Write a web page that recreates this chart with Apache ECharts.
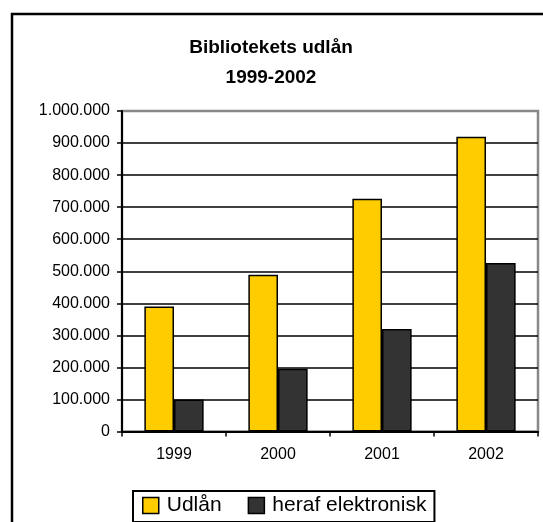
<!DOCTYPE html>
<html>
<head>
<meta charset="utf-8">
<script src="https://cdn.jsdelivr.net/npm/echarts@6/dist/echarts.min.js"></script>
<style>
  html, body { margin: 0; padding: 0; background: #fff; }
  #chart { width: 543px; height: 522px; }
</style>
</head>
<body>
<div id="chart"></div>
<script>
const years = ['1999', '2000', '2001', '2002'];
const udlaan = [390000, 489000, 726000, 920000];
const elektronisk = [100000, 196000, 320000, 526000];
const yMax = 1000000;
const yStep = 100000;

// tal med punktum som tusindtalsseparator
function fmt(v) {
    return String(v).replace(/\B(?=(\d{3})+(?!\d))/g, '.');
}

const chart = echarts.init(document.getElementById('chart'));
const option = {
    animation: false,
    backgroundColor: '#fff',
    textStyle: { fontFamily: 'Liberation Sans, Arial, sans-serif' },
    title: {
        text: 'Bibliotekets udlån\n1999-2002',
        left: 266,
        top: 28,
        textAlign: 'center',
        textStyle: {
            fontSize: 19,
            fontWeight: 'bold',
            color: '#000',
            lineHeight: 30,
            fontFamily: 'Liberation Sans, Arial, sans-serif'
        }
    },
    graphic: [
        {
            type: 'rect',
            shape: { x: 12, y: 14, width: 560, height: 540 },
            style: { fill: 'none', stroke: '#000', lineWidth: 2.5 },
            silent: true
        }
    ],
    legend: {
        data: ['Udlån', 'heraf elektronisk'],
        left: 133,
        top: 491,
        padding: [4, 8, 6, 9],
        itemWidth: 16,
        itemHeight: 16,
        itemGap: 26,
        icon: 'rect',
        borderColor: '#000',
        borderWidth: 2,
        textStyle: { fontSize: 21, color: '#000', padding: [0, 0, 0, 3] },
        itemStyle: { borderColor: '#000', borderWidth: 1.5 }
    },
    grid: {
        left: 122,
        right: 5,
        top: 111,
        bottom: 90.5,
        show: true,
        borderColor: '#888',
        borderWidth: 2.5,
        backgroundColor: '#fff'
    },
    xAxis: {
        type: 'category',
        data: years,
        axisLine: { lineStyle: { color: '#000', width: 2 } },
        axisTick: { show: true, length: 5, lineStyle: { color: '#000', width: 1.5 } },
        axisLabel: { fontSize: 16, color: '#000', margin: 15 }
    },
    yAxis: {
        type: 'value',
        min: 0,
        max: yMax,
        interval: yStep,
        axisLine: { show: true, lineStyle: { color: '#000', width: 2 } },
        axisTick: { show: true, length: 5, lineStyle: { color: '#000', width: 1.5 } },
        axisLabel: { fontSize: 16, color: '#000', margin: 12, formatter: fmt },
        splitLine: { show: true, showMaxLine: false, lineStyle: { color: '#000', width: 1.5 } }
    },
    series: [
        {
            name: 'Udlån',
            type: 'bar',
            data: udlaan,
            barGap: '0%',
            barCategoryGap: '43%',
            itemStyle: { color: '#FFCC00', borderColor: '#000', borderWidth: 1.5 }
        },
        {
            name: 'heraf elektronisk',
            type: 'bar',
            data: elektronisk,
            itemStyle: { color: '#333333', borderColor: '#000', borderWidth: 1.5 }
        }
    ]
};
chart.setOption(option);
</script>
</body>
</html>
